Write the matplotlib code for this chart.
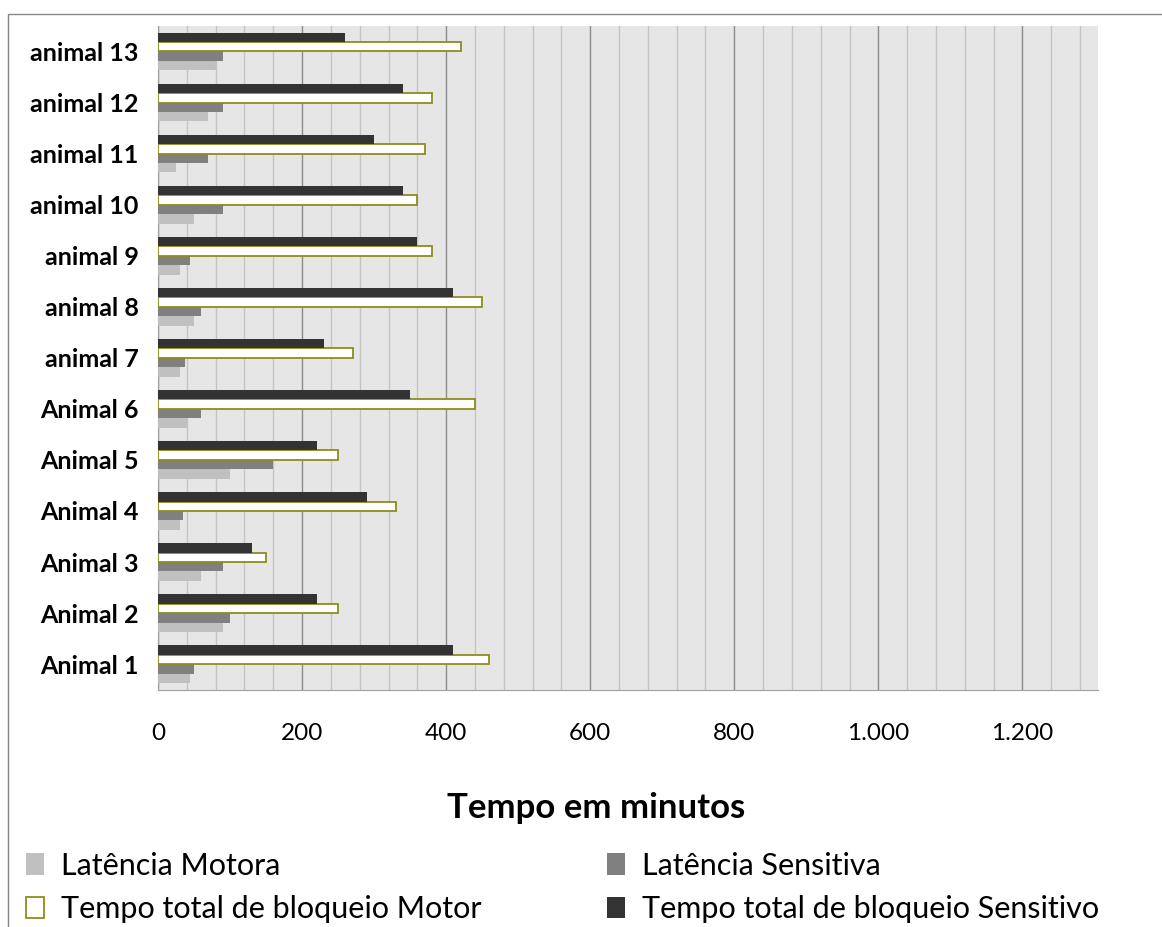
import matplotlib.pyplot as plt
import numpy as np
from matplotlib.ticker import FuncFormatter, MultipleLocator
from matplotlib.patches import Rectangle

plt.rcParams['font.family'] = ['Lato', 'DejaVu Sans']

# dados (minutos)
animais = ['Animal 1', 'Animal 2', 'Animal 3', 'Animal 4', 'Animal 5', 'Animal 6',
           'animal 7', 'animal 8', 'animal 9', 'animal 10', 'animal 11', 'animal 12', 'animal 13']
lat_motora = [45, 90, 60, 30, 100, 40, 30, 50, 30, 50, 25, 70, 80]
lat_sensitiva = [50, 100, 90, 35, 160, 60, 38, 60, 45, 90, 70, 90, 90]
total_motor = [460, 250, 150, 330, 250, 440, 270, 450, 380, 360, 370, 380, 420]
total_sensitivo = [410, 220, 130, 290, 220, 350, 230, 410, 360, 340, 300, 340, 260]

fig = plt.figure(figsize=(11.62, 9.27), dpi=100)
ax = fig.add_axes([0.136, 0.256, 0.809, 0.716])

y = np.arange(len(animais))
h = 0.185
ax.barh(y - 1.5 * h, lat_motora, h, color='#c0c0c0', label='Latência Motora', zorder=3)
ax.barh(y - 0.5 * h, lat_sensitiva, h, color='#808080', label='Latência Sensitiva', zorder=3)
ax.barh(y + 0.5 * h, total_motor, h, color='white', edgecolor='#8c8c1e', linewidth=1.3,
        label='Tempo total de bloqueio Motor', zorder=3)
ax.barh(y + 1.5 * h, total_sensitivo, h, color='#333333', label='Tempo total de bloqueio Sensitivo', zorder=3)

ax.set_xlim(0, 1305)
ax.set_ylim(-0.5, len(animais) - 0.5)
ax.set_facecolor('#e6e6e6')
ax.xaxis.set_major_locator(MultipleLocator(200))
ax.xaxis.set_minor_locator(MultipleLocator(40))
ax.xaxis.set_major_formatter(FuncFormatter(lambda v, p: f'{v:,.0f}'.replace(',', '.')))
ax.grid(which='minor', axis='x', color='#c4c4c4', linewidth=1, zorder=1)
ax.grid(which='major', axis='x', color='#8c8c8c', linewidth=1, zorder=1)
ax.tick_params(axis='x', which='both', length=0, pad=24, labelsize=17.5)
ax.tick_params(axis='y', length=0, pad=14, labelsize=18)
ax.set_yticks(y)
ax.set_yticklabels(animais, fontweight='bold')
for s in ['top', 'right']:
    ax.spines[s].set_visible(False)
ax.spines['left'].set_color('#a0a0a0')
ax.spines['bottom'].set_color('#a0a0a0')

fig.text(0.513, 0.128, 'Tempo em minutos', ha='center', va='center', fontsize=25, fontweight='bold')

handles, labels = ax.get_legend_handles_labels()
order = [0, 2, 1, 3]
fig.legend([handles[i] for i in order], [labels[i] for i in order], ncol=2,
           loc='lower left', bbox_to_anchor=(0.012, -0.009), frameon=False, fontsize=22,
           handlelength=0.6, handleheight=0.72, handletextpad=0.55, columnspacing=4.1,
           labelspacing=0.5, borderaxespad=0)

# moldura da figura
fig.patches.append(Rectangle((8 / 1162, -0.1), 1.2, 1.1 - 14 / 927, transform=fig.transFigure,
                             fill=False, edgecolor='#888888', linewidth=1))

fig.savefig('out.png', dpi=100)
